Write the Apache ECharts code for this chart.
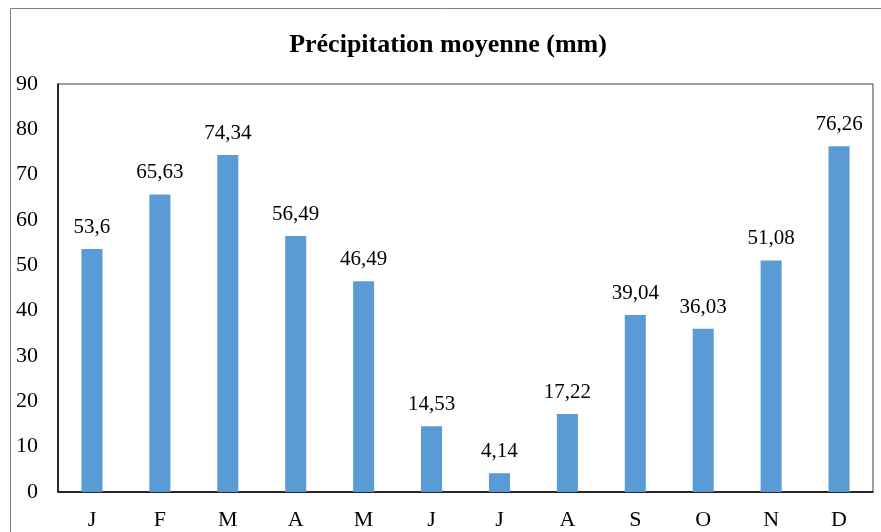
<!DOCTYPE html>
<html>
<head>
<meta charset="utf-8">
<script src="https://cdn.jsdelivr.net/npm/echarts@6/dist/echarts.min.js"></script>
<style>
  html, body { margin: 0; padding: 0; background: #fff; }
  #chart { width: 881px; height: 532px; }
</style>
</head>
<body>
<div id="chart"></div>
<script>
// Monthly mean precipitation (mm)
const months = ['J', 'F', 'M', 'A', 'M', 'J', 'J', 'A', 'S', 'O', 'N', 'D'];
const precipitation = [53.6, 65.63, 74.34, 56.49, 46.49, 14.53, 4.14, 17.22, 39.04, 36.03, 51.08, 76.26];
const yTicks = [0, 10, 20, 30, 40, 50, 60, 70, 80, 90];
const chartTitle = 'Précipitation moyenne (mm)';

const serif = '"Liberation Serif", "Times New Roman", serif';
const chart = echarts.init(document.getElementById('chart'), null, { renderer: 'canvas' });

chart.setOption({
  animation: false,
  backgroundColor: '#fff',
  graphic: [{
    // outer chart frame (runs past the right and bottom edges)
    type: 'rect',
    shape: { x: 10.5, y: 8.5, width: 900, height: 600 },
    style: { fill: 'none', stroke: '#7f7f7f', lineWidth: 1 },
    silent: true,
    z: -1
  }, {
    type: 'text',
    x: 448,
    y: 45,
    style: {
      text: chartTitle,
      align: 'center',
      verticalAlign: 'middle',
      font: 'bold 26px ' + serif,
      fill: '#000'
    },
    silent: true
  }],
  grid: {
    left: 58, right: 8, top: 84, bottom: 40,
    show: true, borderColor: '#404040', borderWidth: 1, backgroundColor: 'transparent'
  },
  xAxis: {
    type: 'category',
    data: months,
    axisLine: { show: true, lineStyle: { color: '#000', width: 1.5 } },
    axisTick: { show: false },
    axisLabel: { fontFamily: serif, fontSize: 22, color: '#000', margin: 17 }
  },
  yAxis: {
    type: 'value',
    min: yTicks[0],
    max: yTicks[yTicks.length - 1],
    interval: 10,
    splitLine: { show: false },
    axisLine: { show: true, lineStyle: { color: '#000', width: 1.5 } },
    axisTick: { show: false },
    axisLabel: { fontFamily: serif, fontSize: 22, color: '#000', margin: 20 }
  },
  series: [{
    type: 'bar',
    data: precipitation,
    barWidth: '31%',
    itemStyle: { color: '#5b9bd5' },
    label: {
      show: true,
      position: 'top',
      distance: 11,
      fontFamily: serif,
      fontSize: 21,
      color: '#000',
      formatter: p => String(p.value).replace('.', ',')
    }
  }]
});
</script>
</body>
</html>
